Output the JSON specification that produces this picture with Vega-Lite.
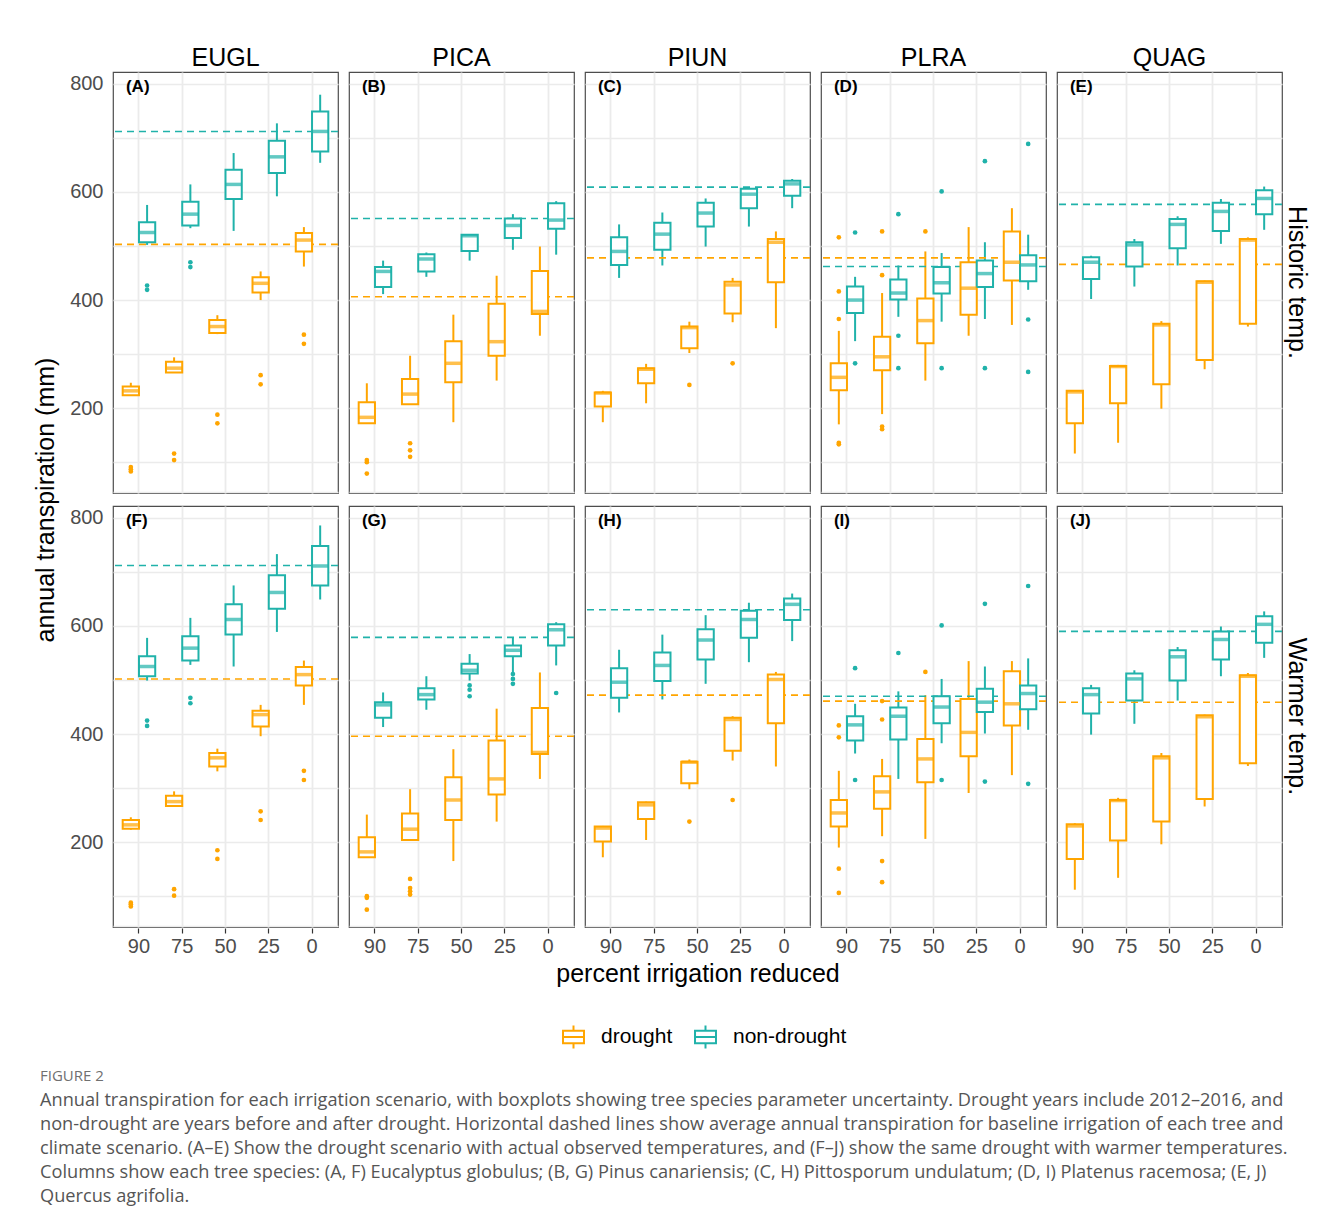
{
  "$schema": "https://vega.github.io/schema/vega-lite/v6.json",
  "padding": {"left": 33, "top": 46, "right": 5, "bottom": 5},
  "background": "white",
  "title": {
    "text": "FIGURE 2",
    "subtitle": [
      "Annual transpiration for each irrigation scenario, with boxplots showing tree species parameter uncertainty. Drought years include 2012–2016, and",
      "non-drought are years before and after drought. Horizontal dashed lines show average annual transpiration for baseline irrigation of each tree and",
      "climate scenario. (A–E) Show the drought scenario with actual observed temperatures, and (F–J) show the same drought with warmer temperatures.",
      "Columns show each tree species: (A, F) Eucalyptus globulus; (B, G) Pinus canariensis; (C, H) Pittosporum undulatum; (D, I) Platenus racemosa; (E, J)",
      "Quercus agrifolia."
    ],
    "orient": "bottom",
    "anchor": "start",
    "dx": 6,
    "offset": 16,
    "font": "Open Sans",
    "fontSize": 15,
    "fontWeight": "normal",
    "color": "#707070",
    "subtitleFont": "Open Sans",
    "subtitleFontSize": 18.2,
    "subtitleColor": "#555555",
    "subtitleLineHeight": 24,
    "subtitlePadding": 8
  },
  "data": {
    "values": [
      {"k":"b","t":"Historic temp.","s":"EUGL","x":"90","g":"drought","lo":223,"q1":224,"md":232,"q3":240,"hi":247},
      {"k":"b","t":"Historic temp.","s":"EUGL","x":"90","g":"non-drought","lo":502,"q1":507,"md":525,"q3":544,"hi":576},
      {"k":"b","t":"Historic temp.","s":"EUGL","x":"75","g":"drought","lo":266,"q1":266,"md":274,"q3":286,"hi":294},
      {"k":"b","t":"Historic temp.","s":"EUGL","x":"75","g":"non-drought","lo":533,"q1":538,"md":559,"q3":582,"hi":614},
      {"k":"b","t":"Historic temp.","s":"EUGL","x":"50","g":"drought","lo":337,"q1":339,"md":351,"q3":363,"hi":372},
      {"k":"b","t":"Historic temp.","s":"EUGL","x":"50","g":"non-drought","lo":528,"q1":587,"md":614,"q3":641,"hi":672},
      {"k":"b","t":"Historic temp.","s":"EUGL","x":"25","g":"drought","lo":400,"q1":414,"md":431,"q3":442,"hi":453},
      {"k":"b","t":"Historic temp.","s":"EUGL","x":"25","g":"non-drought","lo":592,"q1":635,"md":665,"q3":695,"hi":727},
      {"k":"b","t":"Historic temp.","s":"EUGL","x":"0","g":"drought","lo":462,"q1":490,"md":511,"q3":524,"hi":535},
      {"k":"b","t":"Historic temp.","s":"EUGL","x":"0","g":"non-drought","lo":654,"q1":675,"md":712,"q3":749,"hi":780},

      {"k":"b","t":"Historic temp.","s":"PICA","x":"90","g":"drought","lo":172,"q1":172,"md":183,"q3":211,"hi":246},
      {"k":"b","t":"Historic temp.","s":"PICA","x":"90","g":"non-drought","lo":411,"q1":424,"md":453,"q3":461,"hi":473},
      {"k":"b","t":"Historic temp.","s":"PICA","x":"75","g":"drought","lo":207,"q1":207,"md":226,"q3":254,"hi":297},
      {"k":"b","t":"Historic temp.","s":"PICA","x":"75","g":"non-drought","lo":443,"q1":453,"md":476,"q3":485,"hi":488},
      {"k":"b","t":"Historic temp.","s":"PICA","x":"50","g":"drought","lo":174,"q1":248,"md":283,"q3":324,"hi":373},
      {"k":"b","t":"Historic temp.","s":"PICA","x":"50","g":"non-drought","lo":473,"q1":491,"md":519,"q3":521,"hi":522},
      {"k":"b","t":"Historic temp.","s":"PICA","x":"25","g":"drought","lo":251,"q1":297,"md":323,"q3":393,"hi":445},
      {"k":"b","t":"Historic temp.","s":"PICA","x":"25","g":"non-drought","lo":493,"q1":515,"md":538,"q3":551,"hi":559},
      {"k":"b","t":"Historic temp.","s":"PICA","x":"0","g":"drought","lo":334,"q1":374,"md":379,"q3":454,"hi":499},
      {"k":"b","t":"Historic temp.","s":"PICA","x":"0","g":"non-drought","lo":484,"q1":532,"md":548,"q3":579,"hi":583},

      {"k":"b","t":"Historic temp.","s":"PIUN","x":"90","g":"drought","lo":174,"q1":203,"md":228,"q3":229,"hi":232},
      {"k":"b","t":"Historic temp.","s":"PIUN","x":"90","g":"non-drought","lo":441,"q1":465,"md":490,"q3":516,"hi":540},
      {"k":"b","t":"Historic temp.","s":"PIUN","x":"75","g":"drought","lo":209,"q1":246,"md":272,"q3":274,"hi":282},
      {"k":"b","t":"Historic temp.","s":"PIUN","x":"75","g":"non-drought","lo":464,"q1":493,"md":522,"q3":543,"hi":562},
      {"k":"b","t":"Historic temp.","s":"PIUN","x":"50","g":"drought","lo":302,"q1":311,"md":349,"q3":351,"hi":360},
      {"k":"b","t":"Historic temp.","s":"PIUN","x":"50","g":"non-drought","lo":499,"q1":536,"md":561,"q3":580,"hi":588},
      {"k":"b","t":"Historic temp.","s":"PIUN","x":"25","g":"drought","lo":359,"q1":375,"md":428,"q3":434,"hi":441},
      {"k":"b","t":"Historic temp.","s":"PIUN","x":"25","g":"non-drought","lo":536,"q1":570,"md":596,"q3":606,"hi":609},
      {"k":"b","t":"Historic temp.","s":"PIUN","x":"0","g":"drought","lo":348,"q1":433,"md":507,"q3":513,"hi":527},
      {"k":"b","t":"Historic temp.","s":"PIUN","x":"0","g":"non-drought","lo":570,"q1":593,"md":615,"q3":621,"hi":624},

      {"k":"b","t":"Historic temp.","s":"PLRA","x":"90","g":"drought","lo":170,"q1":233,"md":257,"q3":283,"hi":343},
      {"k":"b","t":"Historic temp.","s":"PLRA","x":"90","g":"non-drought","lo":324,"q1":376,"md":400,"q3":425,"hi":443},
      {"k":"b","t":"Historic temp.","s":"PLRA","x":"75","g":"drought","lo":189,"q1":270,"md":295,"q3":332,"hi":413},
      {"k":"b","t":"Historic temp.","s":"PLRA","x":"75","g":"non-drought","lo":369,"q1":401,"md":413,"q3":438,"hi":464},
      {"k":"b","t":"Historic temp.","s":"PLRA","x":"50","g":"drought","lo":251,"q1":320,"md":362,"q3":403,"hi":490},
      {"k":"b","t":"Historic temp.","s":"PLRA","x":"50","g":"non-drought","lo":360,"q1":412,"md":432,"q3":461,"hi":487},
      {"k":"b","t":"Historic temp.","s":"PLRA","x":"25","g":"drought","lo":334,"q1":373,"md":422,"q3":470,"hi":535},
      {"k":"b","t":"Historic temp.","s":"PLRA","x":"25","g":"non-drought","lo":365,"q1":424,"md":449,"q3":473,"hi":507},
      {"k":"b","t":"Historic temp.","s":"PLRA","x":"0","g":"drought","lo":354,"q1":436,"md":470,"q3":527,"hi":570},
      {"k":"b","t":"Historic temp.","s":"PLRA","x":"0","g":"non-drought","lo":419,"q1":435,"md":465,"q3":483,"hi":521},

      {"k":"b","t":"Historic temp.","s":"QUAG","x":"90","g":"drought","lo":116,"q1":172,"md":230,"q3":232,"hi":233},
      {"k":"b","t":"Historic temp.","s":"QUAG","x":"90","g":"non-drought","lo":402,"q1":439,"md":470,"q3":479,"hi":482},
      {"k":"b","t":"Historic temp.","s":"QUAG","x":"75","g":"drought","lo":136,"q1":209,"md":277,"q3":278,"hi":280},
      {"k":"b","t":"Historic temp.","s":"QUAG","x":"75","g":"non-drought","lo":425,"q1":462,"md":502,"q3":507,"hi":513},
      {"k":"b","t":"Historic temp.","s":"QUAG","x":"50","g":"drought","lo":199,"q1":244,"md":354,"q3":356,"hi":361},
      {"k":"b","t":"Historic temp.","s":"QUAG","x":"50","g":"non-drought","lo":464,"q1":496,"md":540,"q3":550,"hi":555},
      {"k":"b","t":"Historic temp.","s":"QUAG","x":"25","g":"drought","lo":272,"q1":289,"md":433,"q3":435,"hi":436},
      {"k":"b","t":"Historic temp.","s":"QUAG","x":"25","g":"non-drought","lo":504,"q1":528,"md":564,"q3":580,"hi":587},
      {"k":"b","t":"Historic temp.","s":"QUAG","x":"0","g":"drought","lo":351,"q1":356,"md":511,"q3":513,"hi":516},
      {"k":"b","t":"Historic temp.","s":"QUAG","x":"0","g":"non-drought","lo":530,"q1":559,"md":588,"q3":603,"hi":610},

      {"k":"b","t":"Warmer temp.","s":"EUGL","x":"90","g":"drought","lo":223,"q1":225,"md":232,"q3":241,"hi":246},
      {"k":"b","t":"Warmer temp.","s":"EUGL","x":"90","g":"non-drought","lo":499,"q1":507,"md":525,"q3":544,"hi":578},
      {"k":"b","t":"Warmer temp.","s":"EUGL","x":"75","g":"drought","lo":266,"q1":267,"md":275,"q3":286,"hi":294},
      {"k":"b","t":"Warmer temp.","s":"EUGL","x":"75","g":"non-drought","lo":528,"q1":536,"md":559,"q3":581,"hi":615},
      {"k":"b","t":"Warmer temp.","s":"EUGL","x":"50","g":"drought","lo":331,"q1":340,"md":356,"q3":365,"hi":373},
      {"k":"b","t":"Warmer temp.","s":"EUGL","x":"50","g":"non-drought","lo":525,"q1":584,"md":612,"q3":640,"hi":675},
      {"k":"b","t":"Warmer temp.","s":"EUGL","x":"25","g":"drought","lo":396,"q1":414,"md":436,"q3":443,"hi":454},
      {"k":"b","t":"Warmer temp.","s":"EUGL","x":"25","g":"non-drought","lo":589,"q1":632,"md":662,"q3":694,"hi":733},
      {"k":"b","t":"Warmer temp.","s":"EUGL","x":"0","g":"drought","lo":454,"q1":490,"md":510,"q3":524,"hi":536},
      {"k":"b","t":"Warmer temp.","s":"EUGL","x":"0","g":"non-drought","lo":649,"q1":675,"md":711,"q3":748,"hi":786},

      {"k":"b","t":"Warmer temp.","s":"PICA","x":"90","g":"drought","lo":172,"q1":172,"md":182,"q3":209,"hi":251},
      {"k":"b","t":"Warmer temp.","s":"PICA","x":"90","g":"non-drought","lo":413,"q1":430,"md":454,"q3":459,"hi":477},
      {"k":"b","t":"Warmer temp.","s":"PICA","x":"75","g":"drought","lo":204,"q1":204,"md":224,"q3":253,"hi":298},
      {"k":"b","t":"Warmer temp.","s":"PICA","x":"75","g":"non-drought","lo":445,"q1":464,"md":473,"q3":485,"hi":507},
      {"k":"b","t":"Warmer temp.","s":"PICA","x":"50","g":"drought","lo":165,"q1":241,"md":278,"q3":320,"hi":372},
      {"k":"b","t":"Warmer temp.","s":"PICA","x":"50","g":"non-drought","lo":499,"q1":512,"md":518,"q3":530,"hi":548},
      {"k":"b","t":"Warmer temp.","s":"PICA","x":"25","g":"drought","lo":238,"q1":288,"md":317,"q3":388,"hi":447},
      {"k":"b","t":"Warmer temp.","s":"PICA","x":"25","g":"non-drought","lo":510,"q1":544,"md":555,"q3":564,"hi":578},
      {"k":"b","t":"Warmer temp.","s":"PICA","x":"0","g":"drought","lo":317,"q1":363,"md":366,"q3":448,"hi":514},
      {"k":"b","t":"Warmer temp.","s":"PICA","x":"0","g":"non-drought","lo":527,"q1":564,"md":593,"q3":603,"hi":607},

      {"k":"b","t":"Warmer temp.","s":"PIUN","x":"90","g":"drought","lo":172,"q1":201,"md":226,"q3":229,"hi":230},
      {"k":"b","t":"Warmer temp.","s":"PIUN","x":"90","g":"non-drought","lo":440,"q1":467,"md":496,"q3":522,"hi":556},
      {"k":"b","t":"Warmer temp.","s":"PIUN","x":"75","g":"drought","lo":204,"q1":243,"md":269,"q3":274,"hi":275},
      {"k":"b","t":"Warmer temp.","s":"PIUN","x":"75","g":"non-drought","lo":464,"q1":498,"md":527,"q3":551,"hi":584},
      {"k":"b","t":"Warmer temp.","s":"PIUN","x":"50","g":"drought","lo":298,"q1":309,"md":348,"q3":349,"hi":353},
      {"k":"b","t":"Warmer temp.","s":"PIUN","x":"50","g":"non-drought","lo":493,"q1":538,"md":574,"q3":594,"hi":620},
      {"k":"b","t":"Warmer temp.","s":"PIUN","x":"25","g":"drought","lo":351,"q1":369,"md":427,"q3":430,"hi":433},
      {"k":"b","t":"Warmer temp.","s":"PIUN","x":"25","g":"non-drought","lo":533,"q1":578,"md":612,"q3":628,"hi":643},
      {"k":"b","t":"Warmer temp.","s":"PIUN","x":"0","g":"drought","lo":340,"q1":420,"md":501,"q3":510,"hi":515},
      {"k":"b","t":"Warmer temp.","s":"PIUN","x":"0","g":"non-drought","lo":572,"q1":611,"md":640,"q3":651,"hi":660},

      {"k":"b","t":"Warmer temp.","s":"PLRA","x":"90","g":"drought","lo":190,"q1":229,"md":254,"q3":278,"hi":332},
      {"k":"b","t":"Warmer temp.","s":"PLRA","x":"90","g":"non-drought","lo":364,"q1":388,"md":417,"q3":433,"hi":456},
      {"k":"b","t":"Warmer temp.","s":"PLRA","x":"75","g":"drought","lo":211,"q1":262,"md":293,"q3":322,"hi":354},
      {"k":"b","t":"Warmer temp.","s":"PLRA","x":"75","g":"non-drought","lo":317,"q1":390,"md":433,"q3":449,"hi":479},
      {"k":"b","t":"Warmer temp.","s":"PLRA","x":"50","g":"drought","lo":206,"q1":311,"md":354,"q3":391,"hi":472},
      {"k":"b","t":"Warmer temp.","s":"PLRA","x":"50","g":"non-drought","lo":383,"q1":420,"md":450,"q3":470,"hi":502},
      {"k":"b","t":"Warmer temp.","s":"PLRA","x":"25","g":"drought","lo":291,"q1":359,"md":403,"q3":465,"hi":535},
      {"k":"b","t":"Warmer temp.","s":"PLRA","x":"25","g":"non-drought","lo":401,"q1":441,"md":459,"q3":484,"hi":525},
      {"k":"b","t":"Warmer temp.","s":"PLRA","x":"0","g":"drought","lo":324,"q1":416,"md":456,"q3":516,"hi":535},
      {"k":"b","t":"Warmer temp.","s":"PLRA","x":"0","g":"non-drought","lo":408,"q1":446,"md":475,"q3":490,"hi":540},

      {"k":"b","t":"Warmer temp.","s":"QUAG","x":"90","g":"drought","lo":112,"q1":169,"md":230,"q3":233,"hi":235},
      {"k":"b","t":"Warmer temp.","s":"QUAG","x":"90","g":"non-drought","lo":399,"q1":438,"md":473,"q3":485,"hi":491},
      {"k":"b","t":"Warmer temp.","s":"QUAG","x":"75","g":"drought","lo":134,"q1":203,"md":277,"q3":278,"hi":282},
      {"k":"b","t":"Warmer temp.","s":"QUAG","x":"75","g":"non-drought","lo":419,"q1":462,"md":502,"q3":512,"hi":518},
      {"k":"b","t":"Warmer temp.","s":"QUAG","x":"50","g":"drought","lo":196,"q1":238,"md":356,"q3":359,"hi":365},
      {"k":"b","t":"Warmer temp.","s":"QUAG","x":"50","g":"non-drought","lo":462,"q1":499,"md":543,"q3":555,"hi":561},
      {"k":"b","t":"Warmer temp.","s":"QUAG","x":"25","g":"drought","lo":266,"q1":280,"md":432,"q3":435,"hi":436},
      {"k":"b","t":"Warmer temp.","s":"QUAG","x":"25","g":"non-drought","lo":507,"q1":538,"md":575,"q3":590,"hi":599},
      {"k":"b","t":"Warmer temp.","s":"QUAG","x":"0","g":"drought","lo":341,"q1":346,"md":507,"q3":509,"hi":513},
      {"k":"b","t":"Warmer temp.","s":"QUAG","x":"0","g":"non-drought","lo":541,"q1":569,"md":603,"q3":618,"hi":627},

      {"k":"o","t":"Historic temp.","s":"EUGL","x":"90","g":"drought","v":91},
      {"k":"o","t":"Historic temp.","s":"EUGL","x":"90","g":"drought","v":87},
      {"k":"o","t":"Historic temp.","s":"EUGL","x":"90","g":"drought","v":83},
      {"k":"o","t":"Historic temp.","s":"EUGL","x":"90","g":"non-drought","v":427},
      {"k":"o","t":"Historic temp.","s":"EUGL","x":"90","g":"non-drought","v":419},
      {"k":"o","t":"Historic temp.","s":"EUGL","x":"75","g":"drought","v":116},
      {"k":"o","t":"Historic temp.","s":"EUGL","x":"75","g":"drought","v":104},
      {"k":"o","t":"Historic temp.","s":"EUGL","x":"75","g":"non-drought","v":470},
      {"k":"o","t":"Historic temp.","s":"EUGL","x":"75","g":"non-drought","v":461},
      {"k":"o","t":"Historic temp.","s":"EUGL","x":"50","g":"drought","v":188},
      {"k":"o","t":"Historic temp.","s":"EUGL","x":"50","g":"drought","v":172},
      {"k":"o","t":"Historic temp.","s":"EUGL","x":"25","g":"drought","v":261},
      {"k":"o","t":"Historic temp.","s":"EUGL","x":"25","g":"drought","v":244},
      {"k":"o","t":"Historic temp.","s":"EUGL","x":"0","g":"drought","v":336},
      {"k":"o","t":"Historic temp.","s":"EUGL","x":"0","g":"drought","v":319},
      {"k":"o","t":"Historic temp.","s":"PICA","x":"90","g":"drought","v":104},
      {"k":"o","t":"Historic temp.","s":"PICA","x":"90","g":"drought","v":100},
      {"k":"o","t":"Historic temp.","s":"PICA","x":"90","g":"drought","v":79},
      {"k":"o","t":"Historic temp.","s":"PICA","x":"75","g":"drought","v":135},
      {"k":"o","t":"Historic temp.","s":"PICA","x":"75","g":"drought","v":122},
      {"k":"o","t":"Historic temp.","s":"PICA","x":"75","g":"drought","v":110},
      {"k":"o","t":"Historic temp.","s":"PIUN","x":"50","g":"drought","v":243},
      {"k":"o","t":"Historic temp.","s":"PIUN","x":"25","g":"drought","v":283},
      {"k":"o","t":"Historic temp.","s":"PLRA","x":"90","g":"drought","v":516},
      {"k":"o","t":"Historic temp.","s":"PLRA","x":"90","g":"drought","v":416},
      {"k":"o","t":"Historic temp.","s":"PLRA","x":"90","g":"drought","v":365},
      {"k":"o","t":"Historic temp.","s":"PLRA","x":"90","g":"drought","v":136},
      {"k":"o","t":"Historic temp.","s":"PLRA","x":"90","g":"drought","v":133},
      {"k":"o","t":"Historic temp.","s":"PLRA","x":"90","g":"non-drought","v":525},
      {"k":"o","t":"Historic temp.","s":"PLRA","x":"90","g":"non-drought","v":283},
      {"k":"o","t":"Historic temp.","s":"PLRA","x":"75","g":"drought","v":527},
      {"k":"o","t":"Historic temp.","s":"PLRA","x":"75","g":"drought","v":446},
      {"k":"o","t":"Historic temp.","s":"PLRA","x":"75","g":"drought","v":166},
      {"k":"o","t":"Historic temp.","s":"PLRA","x":"75","g":"drought","v":161},
      {"k":"o","t":"Historic temp.","s":"PLRA","x":"75","g":"non-drought","v":559},
      {"k":"o","t":"Historic temp.","s":"PLRA","x":"75","g":"non-drought","v":334},
      {"k":"o","t":"Historic temp.","s":"PLRA","x":"75","g":"non-drought","v":274},
      {"k":"o","t":"Historic temp.","s":"PLRA","x":"50","g":"drought","v":527},
      {"k":"o","t":"Historic temp.","s":"PLRA","x":"50","g":"non-drought","v":601},
      {"k":"o","t":"Historic temp.","s":"PLRA","x":"50","g":"non-drought","v":274},
      {"k":"o","t":"Historic temp.","s":"PLRA","x":"25","g":"non-drought","v":657},
      {"k":"o","t":"Historic temp.","s":"PLRA","x":"25","g":"non-drought","v":274},
      {"k":"o","t":"Historic temp.","s":"PLRA","x":"0","g":"non-drought","v":689},
      {"k":"o","t":"Historic temp.","s":"PLRA","x":"0","g":"non-drought","v":364},
      {"k":"o","t":"Historic temp.","s":"PLRA","x":"0","g":"non-drought","v":267},

      {"k":"o","t":"Warmer temp.","s":"EUGL","x":"90","g":"drought","v":88},
      {"k":"o","t":"Warmer temp.","s":"EUGL","x":"90","g":"drought","v":85},
      {"k":"o","t":"Warmer temp.","s":"EUGL","x":"90","g":"drought","v":81},
      {"k":"o","t":"Warmer temp.","s":"EUGL","x":"90","g":"non-drought","v":425},
      {"k":"o","t":"Warmer temp.","s":"EUGL","x":"90","g":"non-drought","v":415},
      {"k":"o","t":"Warmer temp.","s":"EUGL","x":"75","g":"drought","v":113},
      {"k":"o","t":"Warmer temp.","s":"EUGL","x":"75","g":"drought","v":101},
      {"k":"o","t":"Warmer temp.","s":"EUGL","x":"75","g":"non-drought","v":467},
      {"k":"o","t":"Warmer temp.","s":"EUGL","x":"75","g":"non-drought","v":457},
      {"k":"o","t":"Warmer temp.","s":"EUGL","x":"50","g":"drought","v":185},
      {"k":"o","t":"Warmer temp.","s":"EUGL","x":"50","g":"drought","v":169},
      {"k":"o","t":"Warmer temp.","s":"EUGL","x":"25","g":"drought","v":257},
      {"k":"o","t":"Warmer temp.","s":"EUGL","x":"25","g":"drought","v":241},
      {"k":"o","t":"Warmer temp.","s":"EUGL","x":"0","g":"drought","v":332},
      {"k":"o","t":"Warmer temp.","s":"EUGL","x":"0","g":"drought","v":315},
      {"k":"o","t":"Warmer temp.","s":"PICA","x":"90","g":"drought","v":100},
      {"k":"o","t":"Warmer temp.","s":"PICA","x":"90","g":"drought","v":97},
      {"k":"o","t":"Warmer temp.","s":"PICA","x":"90","g":"drought","v":75},
      {"k":"o","t":"Warmer temp.","s":"PICA","x":"75","g":"drought","v":132},
      {"k":"o","t":"Warmer temp.","s":"PICA","x":"75","g":"drought","v":115},
      {"k":"o","t":"Warmer temp.","s":"PICA","x":"75","g":"drought","v":109},
      {"k":"o","t":"Warmer temp.","s":"PICA","x":"75","g":"drought","v":103},
      {"k":"o","t":"Warmer temp.","s":"PICA","x":"50","g":"non-drought","v":490},
      {"k":"o","t":"Warmer temp.","s":"PICA","x":"50","g":"non-drought","v":482},
      {"k":"o","t":"Warmer temp.","s":"PICA","x":"50","g":"non-drought","v":470},
      {"k":"o","t":"Warmer temp.","s":"PICA","x":"25","g":"non-drought","v":511},
      {"k":"o","t":"Warmer temp.","s":"PICA","x":"25","g":"non-drought","v":502},
      {"k":"o","t":"Warmer temp.","s":"PICA","x":"25","g":"non-drought","v":493},
      {"k":"o","t":"Warmer temp.","s":"PICA","x":"0","g":"non-drought","v":476},
      {"k":"o","t":"Warmer temp.","s":"PIUN","x":"50","g":"drought","v":238},
      {"k":"o","t":"Warmer temp.","s":"PIUN","x":"25","g":"drought","v":278},
      {"k":"o","t":"Warmer temp.","s":"PLRA","x":"90","g":"drought","v":416},
      {"k":"o","t":"Warmer temp.","s":"PLRA","x":"90","g":"drought","v":394},
      {"k":"o","t":"Warmer temp.","s":"PLRA","x":"90","g":"drought","v":151},
      {"k":"o","t":"Warmer temp.","s":"PLRA","x":"90","g":"drought","v":106},
      {"k":"o","t":"Warmer temp.","s":"PLRA","x":"90","g":"non-drought","v":522},
      {"k":"o","t":"Warmer temp.","s":"PLRA","x":"90","g":"non-drought","v":315},
      {"k":"o","t":"Warmer temp.","s":"PLRA","x":"75","g":"drought","v":461},
      {"k":"o","t":"Warmer temp.","s":"PLRA","x":"75","g":"drought","v":427},
      {"k":"o","t":"Warmer temp.","s":"PLRA","x":"75","g":"drought","v":165},
      {"k":"o","t":"Warmer temp.","s":"PLRA","x":"75","g":"drought","v":126},
      {"k":"o","t":"Warmer temp.","s":"PLRA","x":"75","g":"non-drought","v":550},
      {"k":"o","t":"Warmer temp.","s":"PLRA","x":"50","g":"drought","v":515},
      {"k":"o","t":"Warmer temp.","s":"PLRA","x":"50","g":"non-drought","v":601},
      {"k":"o","t":"Warmer temp.","s":"PLRA","x":"50","g":"non-drought","v":315},
      {"k":"o","t":"Warmer temp.","s":"PLRA","x":"25","g":"non-drought","v":641},
      {"k":"o","t":"Warmer temp.","s":"PLRA","x":"25","g":"non-drought","v":312},
      {"k":"o","t":"Warmer temp.","s":"PLRA","x":"0","g":"non-drought","v":674},
      {"k":"o","t":"Warmer temp.","s":"PLRA","x":"0","g":"non-drought","v":308},

      {"k":"r","t":"Historic temp.","s":"EUGL","g":"drought","v":503},
      {"k":"r","t":"Historic temp.","s":"EUGL","g":"non-drought","v":712},
      {"k":"r","t":"Historic temp.","s":"PICA","g":"drought","v":406},
      {"k":"r","t":"Historic temp.","s":"PICA","g":"non-drought","v":551},
      {"k":"r","t":"Historic temp.","s":"PIUN","g":"drought","v":478},
      {"k":"r","t":"Historic temp.","s":"PIUN","g":"non-drought","v":609},
      {"k":"r","t":"Historic temp.","s":"PLRA","g":"drought","v":478},
      {"k":"r","t":"Historic temp.","s":"PLRA","g":"non-drought","v":462},
      {"k":"r","t":"Historic temp.","s":"QUAG","g":"drought","v":466},
      {"k":"r","t":"Historic temp.","s":"QUAG","g":"non-drought","v":577},
      {"k":"r","t":"Warmer temp.","s":"EUGL","g":"drought","v":502},
      {"k":"r","t":"Warmer temp.","s":"EUGL","g":"non-drought","v":712},
      {"k":"r","t":"Warmer temp.","s":"PICA","g":"drought","v":396},
      {"k":"r","t":"Warmer temp.","s":"PICA","g":"non-drought","v":579},
      {"k":"r","t":"Warmer temp.","s":"PIUN","g":"drought","v":472},
      {"k":"r","t":"Warmer temp.","s":"PIUN","g":"non-drought","v":630},
      {"k":"r","t":"Warmer temp.","s":"PLRA","g":"drought","v":461},
      {"k":"r","t":"Warmer temp.","s":"PLRA","g":"non-drought","v":470},
      {"k":"r","t":"Warmer temp.","s":"QUAG","g":"drought","v":459},
      {"k":"r","t":"Warmer temp.","s":"QUAG","g":"non-drought","v":590},

      {"k":"l","t":"Historic temp.","s":"EUGL","lab":"(A)"},
      {"k":"l","t":"Historic temp.","s":"PICA","lab":"(B)"},
      {"k":"l","t":"Historic temp.","s":"PIUN","lab":"(C)"},
      {"k":"l","t":"Historic temp.","s":"PLRA","lab":"(D)"},
      {"k":"l","t":"Historic temp.","s":"QUAG","lab":"(E)"},
      {"k":"l","t":"Warmer temp.","s":"EUGL","lab":"(F)"},
      {"k":"l","t":"Warmer temp.","s":"PICA","lab":"(G)"},
      {"k":"l","t":"Warmer temp.","s":"PIUN","lab":"(H)"},
      {"k":"l","t":"Warmer temp.","s":"PLRA","lab":"(I)"},
      {"k":"l","t":"Warmer temp.","s":"QUAG","lab":"(J)"}
    ]
  },
  "facet": {
    "row": {"field": "t", "type": "nominal", "sort": ["Historic temp.", "Warmer temp."], "title": "annual transpiration (mm)",
      "header": {"labelOrient": "right", "labelAngle": 90, "labelFontSize": 25, "labelColor": "#000000", "labelPadding": 0, "labelFont": "Liberation Sans",
        "titleOrient": "left", "titleFontSize": 25, "titleFontWeight": "normal", "titleColor": "#000000", "titleFont": "Liberation Sans", "titlePadding": 0}},
    "column": {"field": "s", "type": "nominal", "sort": ["EUGL", "PICA", "PIUN", "PLRA", "QUAG"], "title": "percent irrigation reduced",
      "header": {"labelFontSize": 25, "labelColor": "#000000", "labelPadding": 0, "labelFont": "Liberation Sans",
        "titleOrient": "bottom", "titleFontSize": 25, "titleFontWeight": "normal", "titleColor": "#000000", "titleFont": "Liberation Sans", "titlePadding": -4}}
  },
  "spacing": {"row": 11, "column": 7},
  "spec": {
    "width": 225,
    "height": 421,
    "layer": [
      {
        "transform": [{"filter": "datum.k === 'b'"}],
        "mark": {"type": "rule", "strokeWidth": 2},
        "encoding": {
          "x": {"field": "x", "type": "nominal", "title": null,
            "scale": {"domain": ["90", "75", "50", "25", "0"], "paddingInner": 0, "paddingOuter": 0.1},
            "axis": {"labelAngle": 0, "grid": true, "bandPosition": 0.5, "gridWidth": 1.8, "tickSize": 5, "labelPadding": 3}},
          "xOffset": {"field": "g", "type": "nominal", "scale": {"domain": ["drought", "non-drought"], "paddingInner": 0, "paddingOuter": 0.33}},
          "y": {"field": "lo", "type": "quantitative", "title": null,
            "scale": {"domain": [43, 822], "nice": false, "zero": false},
            "axis": {"values": [44, 50, 100, 150, 200, 250, 300, 350, 400, 450, 500, 550, 600, 650, 700, 750, 800],
              "labelOverlap": "parity", "labelSeparation": 50, "labelBound": true, "ticks": false, "gridWidth": 1.3, "labelPadding": 8}},
          "y2": {"field": "hi"},
          "color": {"field": "g", "type": "nominal", "scale": {"domain": ["drought", "non-drought"], "range": ["#FFA500", "#20B2AA"]},
            "legend": {"orient": "none", "legendX": 449, "legendY": 953, "direction": "horizontal", "title": null, "labelFontSize": 21, "labelColor": "#000000",
              "symbolType": "M-1,-0.6H1V0.6H-1Z M-1,-0.6V0.6H1V-0.6Z M-1,0H1 M0,-0.6V-1.1 M0,0.6V1.1",
              "symbolSize": 440, "symbolStrokeWidth": 2, "symbolFillColor": "white", "columnPadding": 18, "labelOffset": 16}}
        }
      },
      {
        "transform": [{"filter": "datum.k === 'r'"}],
        "mark": {"type": "rule", "strokeDash": [7, 5], "strokeWidth": 1.6},
        "encoding": {
          "y": {"field": "v", "type": "quantitative", "title": null},
          "stroke": {"field": "g", "type": "nominal", "scale": {"domain": ["drought", "non-drought"], "range": ["#FFA500", "#20B2AA"]}, "legend": null}
        }
      },
      {
        "transform": [{"filter": "datum.k === 'b'"}],
        "mark": {"type": "bar", "fill": "white", "strokeWidth": 2},
        "encoding": {
          "x": {"field": "x", "type": "nominal", "title": null},
          "xOffset": {"field": "g", "type": "nominal"},
          "y": {"field": "q1", "type": "quantitative", "title": null},
          "y2": {"field": "q3"},
          "stroke": {"field": "g", "type": "nominal", "legend": null}
        }
      },
      {
        "transform": [{"filter": "datum.k === 'b'"}],
        "mark": {"type": "tick", "thickness": 3.5, "size": 16},
        "encoding": {
          "x": {"field": "x", "type": "nominal", "title": null},
          "xOffset": {"field": "g", "type": "nominal"},
          "y": {"field": "md", "type": "quantitative", "title": null},
          "fill": {"field": "g", "type": "nominal", "scale": {"domain": ["drought", "non-drought"], "range": ["#FFA500", "#20B2AA"]}, "legend": null}
        }
      },
      {
        "transform": [{"filter": "datum.k === 'o'"}],
        "mark": {"type": "circle", "size": 22, "opacity": 1},
        "encoding": {
          "x": {"field": "x", "type": "nominal", "title": null},
          "xOffset": {"field": "g", "type": "nominal"},
          "y": {"field": "v", "type": "quantitative", "title": null},
          "fill": {"field": "g", "type": "nominal", "legend": null}
        }
      },
      {
        "transform": [{"filter": "datum.k === 'l'"}],
        "mark": {"type": "text", "fontWeight": "bold", "fontSize": 17, "align": "left", "baseline": "middle", "dx": -13, "dy": 3, "color": "#000000"},
        "encoding": {
          "x": {"datum": "90", "type": "nominal"},
          "y": {"datum": 800, "type": "quantitative"},
          "text": {"field": "lab"}
        }
      }
    ]
  },
  "config": {
    "font": "Liberation Sans",
    "view": {"stroke": "#4d4d4d", "strokeWidth": 1.2},
    "axis": {
      "domain": false,
      "gridColor": "#EBEBEB",
      "tickColor": "#333333",
      "tickWidth": 1.2,
      "labelColor": "#4D4D4D",
      "labelFontSize": 20,
      "labelFont": "Liberation Sans"
    },
    "legend": {"labelFont": "Liberation Sans"}
  }
}
